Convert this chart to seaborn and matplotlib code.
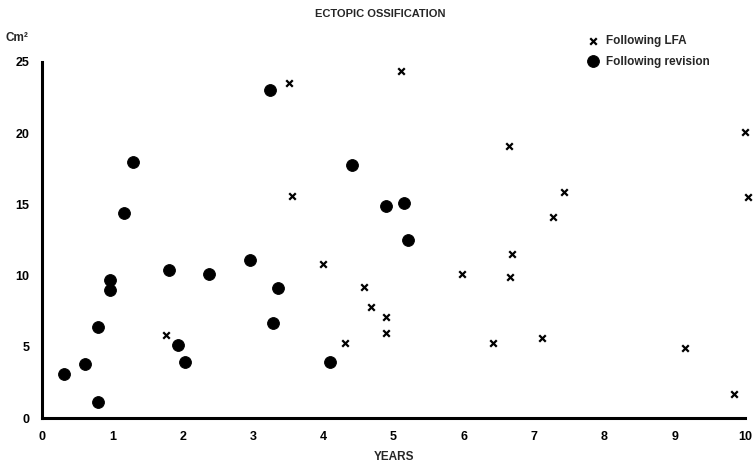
import pandas as pd
import numpy as np
import matplotlib
matplotlib.use("Agg")
import matplotlib.pyplot as plt
import seaborn as sns

# values
rev_years = [0.31, 0.61, 0.80, 0.79, 0.97, 0.97, 1.17, 1.30, 1.80, 1.94, 2.04,
             2.38, 2.96, 3.24, 3.28, 3.35, 4.10, 4.41, 4.89, 5.15, 5.20]
rev_area = [3.1, 3.8, 6.4, 1.1, 9.0, 9.7, 14.4, 18.0, 10.4, 5.1, 3.9,
            10.1, 11.1, 23.0, 6.7, 9.1, 3.9, 17.8, 14.9, 15.1, 12.5]

lfa_years = [1.77, 3.51, 3.55, 4.00, 4.31, 4.58, 4.68, 4.89, 4.89, 5.11, 5.97,
             6.42, 6.66, 6.65, 6.69, 7.11, 7.27, 7.42, 9.14, 9.85, 10.00, 10.04]
lfa_area = [5.8, 23.5, 15.6, 10.8, 5.3, 9.2, 7.8, 7.1, 6.0, 24.4, 10.1,
            5.3, 9.9, 19.1, 11.5, 5.6, 14.1, 15.9, 4.9, 1.7, 20.1, 15.5]

x_ticks = [0, 1, 2, 3, 4, 5, 6, 7, 8, 9, 10]
y_ticks = [0, 5, 10, 15, 20, 25]

rev = pd.DataFrame({'years': rev_years, 'area': rev_area})
lfa = pd.DataFrame({'years': lfa_years, 'area': lfa_area})

sns.set_style("white")
plt.rcParams['font.family'] = ['Liberation Sans', 'DejaVu Sans']
plt.rcParams['font.weight'] = 'bold'

fig = plt.figure(figsize=(7.56, 4.65), dpi=100)
ax = fig.add_axes([42/756, 47/465, 703/756, 356/465])

sns.scatterplot(data=lfa, x='years', y='area', ax=ax, marker='x', color='black',
                s=22, linewidth=1.6, label='Following LFA', clip_on=False)
sns.scatterplot(data=rev, x='years', y='area', ax=ax, marker='o', color='black',
                s=72, edgecolor='black', label='Following revision', clip_on=False)

ax.set_xlim(0, 10)
ax.set_ylim(0, 25)
ax.set_xticks(x_ticks)
ax.set_yticks(y_ticks)
ax.tick_params(axis='both', direction='out', length=4, width=1.5,
               labelsize=9, colors='black', pad=5)
for lab in ax.get_xticklabels() + ax.get_yticklabels():
    lab.set_fontweight('bold')

sns.despine(ax=ax)
for side in ['left', 'bottom']:
    ax.spines[side].set_linewidth(2.2)
    ax.spines[side].set_color('black')

ax.set_xlabel('YEARS', fontsize=8.5, fontweight='bold', labelpad=6)
ax.set_ylabel('')
fig.text(380/756, 1 - 14/465, 'ECTOPIC OSSIFICATION', ha='center', va='center',
         fontsize=8, fontweight='bold')
fig.text(6/756, 1 - 38/465, 'Cm²', ha='left', va='center',
         fontsize=8.5, fontweight='bold')

leg = ax.legend(loc='upper left', bbox_to_anchor=(582/756, 1 - 30/465),
                bbox_transform=fig.transFigure, frameon=False,
                prop={'size': 8.5, 'weight': 'bold'}, handletextpad=0.6,
                labelspacing=0.75, handlelength=1.0, borderaxespad=0)

fig.savefig('out.png', dpi=100)
